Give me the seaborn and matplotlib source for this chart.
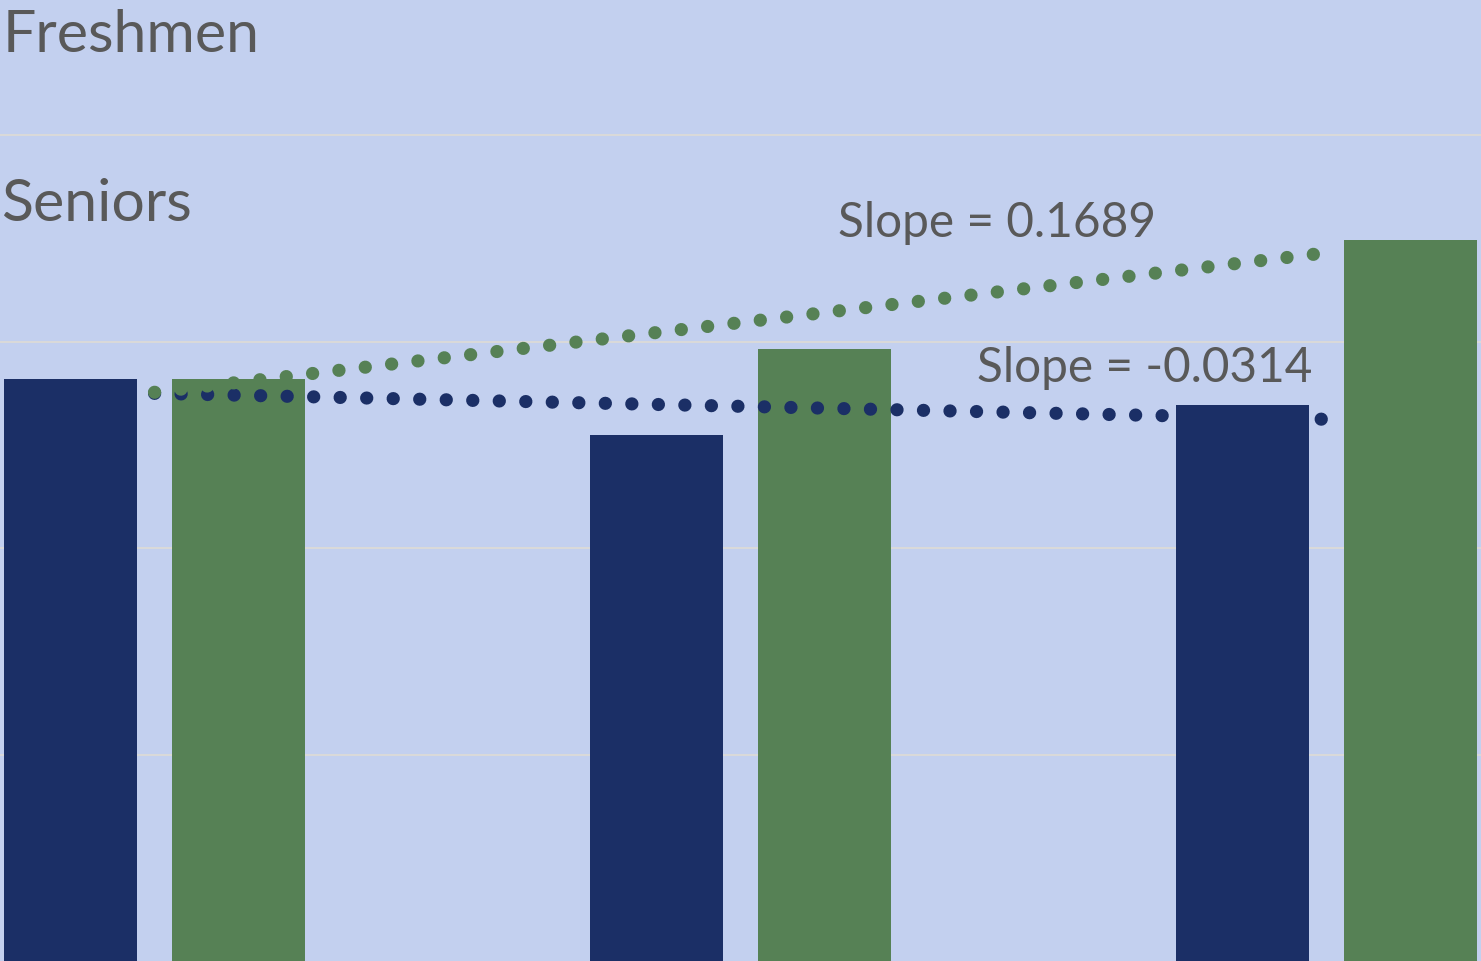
import numpy as np
import pandas as pd
import matplotlib
matplotlib.use("Agg")
import matplotlib.pyplot as plt
import seaborn as sns

# Data
groups = ["Group 1", "Group 2", "Group 3"]
freshmen = [3.409, 3.274, 3.3462]
seniors = [3.409, 3.482, 3.7468]
series_names = ["Freshmen", "Seniors"]

# Colours
BG = "#C3D0EF"
NAVY = "#1B2F66"
GREEN = "#568155"
TEXT = "#595959"
GRID = "#D9D9D9"

df = pd.DataFrame({
    "group": groups * 2,
    "score": freshmen + seniors,
    "cohort": [series_names[0]] * 3 + [series_names[1]] * 3,
})

sns.set_style("white")
plt.rcParams["font.family"] = ["Lato", "DejaVu Sans"]

fig = plt.figure(figsize=(14.81, 9.61), dpi=100)
fig.patch.set_facecolor(BG)
ax = fig.add_axes([0, 0, 1, 1])
ax.set_facecolor(BG)

sns.barplot(data=df, x="group", y="score", hue="cohort", order=groups,
            hue_order=series_names, palette=[NAVY, GREEN], saturation=1,
            width=0.573, gap=0.21, errorbar=None, linewidth=0, ax=ax,
            legend=False, zorder=2)

# Linear trendlines across the clusters
xs = np.arange(len(groups))
for vals, col, z in [(freshmen, NAVY, 3), (seniors, GREEN, 4)]:
    m, b = np.polyfit(xs, vals, 1)
    ax.plot(xs, m * xs + b, color=col, lw=9.5, linestyle=(0, (0.01, 2.0)),
            dash_capstyle="round", zorder=z)

m_f = np.polyfit(xs, freshmen, 1)[0]
m_s = np.polyfit(xs, seniors, 1)[0]

# Axes setup: the picture is cropped, so no spines / ticks
ax.set_xlim(-0.2637, 2.2636)
ax.set_ylim(2.0, 2.0 + 961 / 413)
ax.set_yticks([2.5, 3.0, 3.5, 4.0])
ax.yaxis.grid(True, color=GRID, lw=1.5, zorder=0)
ax.set_axisbelow(True)
ax.tick_params(left=False, bottom=False, labelleft=False, labelbottom=False)
ax.set_xlabel("")
ax.set_ylabel("")
for s in ax.spines.values():
    s.set_visible(False)

# Legend labels (keys are cropped out)
fig.text(0.002, 1 - 52 / 961, series_names[0], fontsize=42.5, color=TEXT, va="baseline")
fig.text(0.001, 1 - 221 / 961, series_names[1], fontsize=42.5, color=TEXT, va="baseline")

# Slope annotations
fig.text(838 / 1481, 1 - 237 / 961, f"Slope = {m_s:.4f}", fontsize=34.4, color=TEXT, va="baseline")
fig.text(977 / 1481, 1 - 382 / 961, f"Slope = {m_f:.4f}", fontsize=34.4, color=TEXT, va="baseline")

fig.savefig("out.png", dpi=100, facecolor=BG)
